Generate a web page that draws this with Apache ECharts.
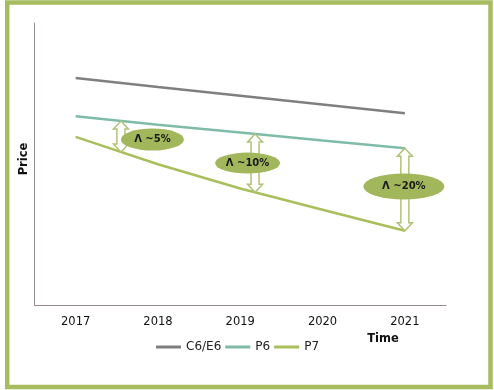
<!DOCTYPE html>
<html><head><meta charset="utf-8">
<script src="https://cdn.jsdelivr.net/npm/echarts@6/dist/echarts.min.js"></script>
<style>html,body{margin:0;padding:0;background:#fff}#c{width:494px;height:390px}</style>
</head><body><div id="c"></div>
<script>
const years = ['2017','2018','2019','2020','2021'];
const seriesNames = ['C6/E6','P6','P7'];
const c6e6 = [80.5,77.3,74.2,71.1,68.0];
const p6 = [66.9,63.9,61.2,58.3,55.6];
const p7 = [59.6,49.9,41.3,33.8,26.3];
const annotLabels = ['Λ ~5%','Λ ~10%','Λ ~20%'];
const annotAt = [0.55, 2.18, 4];          // category position of each gap arrow
const xName = 'Time';
const yName = 'Price';

const FONT = '"DejaVu Sans", Verdana, sans-serif';
const colors = ['#7f7f7f','#7fbca6','#a8bf5c'];
const axisColor = '#9a8a8a';

const chart = echarts.init(document.getElementById('c'), null, {renderer:'canvas'});
chart.setOption({
  animation:false,
  backgroundColor:'#fff',
  color:colors,
  grid:{left:34.5, top:23, right:48, bottom:85},
  legend:{
    data:seriesNames, left:156, top:341, padding:0, itemGap:4,
    icon:'rect', itemWidth:25, itemHeight:3,
    textStyle:{fontFamily:FONT, fontSize:12, color:'#222'}
  },
  xAxis:{
    type:'category', data:years, boundaryGap:true,
    axisLine:{lineStyle:{color:axisColor, width:1}},
    axisTick:{show:false},
    axisLabel:{margin:11, fontFamily:FONT, fontSize:11.5, color:'#111'}
  },
  yAxis:{
    type:'value', min:0, max:100,
    axisLine:{show:true, lineStyle:{color:axisColor, width:1}},
    axisTick:{show:false}, axisLabel:{show:false}, splitLine:{show:false}
  },
  series:[
    {name:seriesNames[0], type:'line', data:c6e6, symbol:'none', lineStyle:{width:2.5}},
    {name:seriesNames[1], type:'line', data:p6, symbol:'none', lineStyle:{width:2.5}},
    {name:seriesNames[2], type:'line', data:p7, symbol:'none', lineStyle:{width:2.5}}
  ]
});

function interp(arr, t){
  const i = Math.min(Math.floor(t), arr.length-2);
  const f = t - i;
  return arr[i] + (arr[i+1]-arr[i])*f;
}
function xPix(t){
  const i = Math.min(Math.floor(t), years.length-2);
  const f = t - i;
  const a = chart.convertToPixel({xAxisIndex:0}, i);
  const b = chart.convertToPixel({xAxisIndex:0}, i+1);
  return a + (b-a)*f;
}
function yPix(v){ return chart.convertToPixel({yAxisIndex:0}, v); }

// ellipse placement relative to each arrow (offset from arrow mid) and radii
const ellOffset = [[31.5,3],[-7.5,0],[-1,-3]];
const ellRadii = [[31.5,11],[32.5,10.5],[40.5,13]];

const elements = [];
// outer border
elements.push({type:'rect', shape:{x:7.2, y:2.5, width:483.3, height:384.5},
  style:{fill:null, stroke:'#a6bc5f', lineWidth:4.5}, z:100});

annotAt.forEach((t, k) => {
  const x = xPix(t);
  const y1 = yPix(interp(p6, t));
  const y2 = yPix(interp(p7, t));
  const hw = 7.5, sw = 4, hh = 8;
  elements.push({type:'polygon', z:50, shape:{points:[
    [x,y1],[x+hw,y1+hh],[x+sw,y1+hh],[x+sw,y2-hh],[x+hw,y2-hh],[x,y2],
    [x-hw,y2-hh],[x-sw,y2-hh],[x-sw,y1+hh],[x-hw,y1+hh]]},
    style:{fill:'#fff', stroke:'#b0c27a', lineWidth:1.5}});
  const cx = x + ellOffset[k][0], cy = (y1+y2)/2 + ellOffset[k][1];
  elements.push({type:'circle', z:60, x:cx, y:cy, scaleX:ellRadii[k][0], scaleY:ellRadii[k][1],
    shape:{cx:0, cy:0, r:1}, style:{fill:'#a2b65c'}});
  elements.push({type:'text', z:70, x:cx, y:cy, style:{text:annotLabels[k],
    textAlign:'center', textVerticalAlign:'middle', fill:'#1a1a1a',
    font:'bold 10px ' + FONT}});
});

elements.push({type:'text', x:383, y:339.5, style:{text:xName, textAlign:'center',
  textVerticalAlign:'middle', fill:'#111', font:'bold 11.5px ' + FONT}});
elements.push({type:'text', x:24, y:159, rotation:Math.PI/2, style:{text:yName, textAlign:'center',
  textVerticalAlign:'middle', fill:'#111', font:'bold 11.5px ' + FONT}});

chart.setOption({graphic:{elements:elements}});
</script></body></html>
